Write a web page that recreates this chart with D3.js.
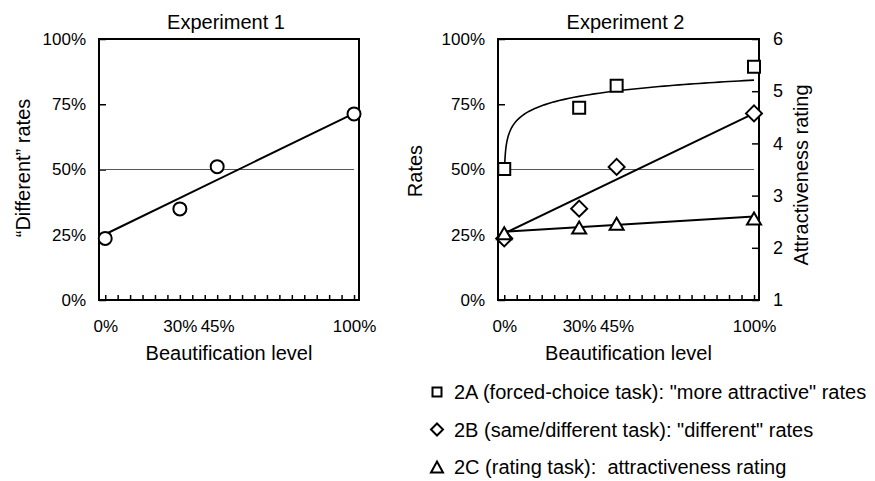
<!DOCTYPE html>
<html>
<head>
<meta charset="utf-8">
<script src="https://cdn.jsdelivr.net/npm/d3@7"></script>
<style>
  body { margin: 0; background: #fff; }
  svg { display: block; font-family: "Liberation Sans", Arial, sans-serif; }
  .tick line { stroke: #000; stroke-width: 1.5; }
  .tick text { fill: #000; }
</style>
</head>
<body>
<svg id="chart" width="875" height="481"></svg>
<script>
// beautification levels (x) shared by both experiments
const levels = [0, 30, 45, 100];
const levelLabels = [0, 30, 45, 100];

// Experiment 1: "different" rates (%)
const exp1Different = [23.6, 34.9, 51.1, 71.3];
const exp1Fit = [25.2, 71.5];            // trend line at x = 0 and x = 100

// Experiment 2
const exp2Attractive = [50.2, 73.7, 82.1, 89.4];  // 2A rates (%)
const exp2Different = [23.6, 35.0, 51.0, 71.5];   // 2B rates (%)
const exp2Rating = [2.28, 2.39, 2.46, 2.56];      // 2C rating (1-6)
const exp2DiffFit = [25.5, 71.5];
const exp2RatingFit = [2.31, 2.60];
const exp2AttrLogFit = [60.4, 5.18];     // y = a + b*ln(x)

const rateTicks = [0, 25, 50, 75, 100];
const ratingTicks = [1, 2, 3, 4, 5, 6];
const minorTicks = d3.range(0, 101, 5);

const legendItems = [
  { shape: "square", text: '2A (forced-choice task): "more attractive" rates' },
  { shape: "diamond", text: '2B (same/different task): "different" rates' },
  { shape: "triangle", text: '2C (rating task):  attractiveness rating' }
];

const svg = d3.select("#chart");
const plotTop = 39, plotBottom = 300;

// marker shapes
function shapePath(shape) {
  if (shape === "circle") return d3.symbol(d3.symbolCircle, Math.PI * 6.5 * 6.5)();
  if (shape === "square") return "M-6,-6H6V6H-6Z";
  if (shape === "diamond") return "M0,-8L8,0L0,8L-8,0Z";
  return "M0,-6L7,6H-7Z";
}

function drawMarkers(g, x, y, values, shape) {
  g.selectAll(null)
    .data(values)
    .enter().append("path")
    .attr("d", shapePath(shape))
    .attr("transform", (d, i) => "translate(" + x(levels[i]) + "," + y(d) + ")")
    .attr("fill", "#fff")
    .attr("stroke", "#000")
    .attr("stroke-width", 2);
}

function drawPanel(left, right, title) {
  const g = svg.append("g");
  const x = d3.scaleLinear().domain([-2.5, 102]).range([left, right]);
  const y = d3.scaleLinear().domain([0, 100]).range([plotBottom, plotTop]);

  // minor ticks along bottom
  g.append("g")
    .attr("transform", "translate(0," + plotBottom + ")")
    .call(d3.axisBottom(x).tickValues(minorTicks).tickSizeInner(-5).tickSizeOuter(0).tickFormat(""))
    .call(a => a.select(".domain").remove());

  // labelled x ticks
  g.append("g")
    .attr("transform", "translate(0," + plotBottom + ")")
    .call(d3.axisBottom(x).tickValues(levelLabels).tickSize(0).tickPadding(20).tickFormat(d => d + "%"))
    .call(a => a.select(".domain").remove())
    .selectAll("text").style("font-size", "17px");

  // y axis
  g.append("g")
    .attr("transform", "translate(" + left + ",0)")
    .call(d3.axisLeft(y).tickValues(rateTicks).tickSizeInner(-7).tickSizeOuter(0).tickPadding(13).tickFormat(d => d + "%"))
    .call(a => a.select(".domain").remove())
    .selectAll("text").style("font-size", "17px");

  // 50% reference line
  g.append("line")
    .attr("x1", left).attr("x2", x(100))
    .attr("y1", y(50)).attr("y2", y(50))
    .attr("stroke", "#555").attr("stroke-width", 1);

  // frame
  g.append("rect")
    .attr("x", left).attr("y", plotTop)
    .attr("width", right - left).attr("height", plotBottom - plotTop)
    .attr("fill", "none").attr("stroke", "#000").attr("stroke-width", 2);

  g.append("text")
    .attr("x", (left + right) / 2 - 3).attr("y", 29)
    .attr("text-anchor", "middle").style("font-size", "20px")
    .text(title);

  g.append("text")
    .attr("x", (left + right) / 2).attr("y", 360)
    .attr("text-anchor", "middle").style("font-size", "20px")
    .text("Beautification level");

  return { g, x, y };
}

// ---- Experiment 1
const p1 = drawPanel(99, 359, "Experiment 1");
p1.g.append("text")
  .attr("transform", "translate(23,168) rotate(-90)")
  .attr("text-anchor", "middle").attr("dominant-baseline", "central")
  .style("font-size", "20px")
  .text("\u201CDifferent\u201D rates");

p1.g.append("line")
  .attr("x1", p1.x(0)).attr("y1", p1.y(exp1Fit[0]))
  .attr("x2", p1.x(100)).attr("y2", p1.y(exp1Fit[1]))
  .attr("stroke", "#000").attr("stroke-width", 2);
drawMarkers(p1.g, p1.x, p1.y, exp1Different, "circle");

// ---- Experiment 2
const p2 = drawPanel(498, 759, "Experiment 2");
p2.g.append("text")
  .attr("transform", "translate(415,171) rotate(-90)")
  .attr("text-anchor", "middle").attr("dominant-baseline", "central")
  .style("font-size", "20px")
  .text("Rates");

const yR = d3.scaleLinear().domain([1, 6]).range([plotBottom, plotTop]);
p2.g.append("g")
  .attr("transform", "translate(759,0)")
  .call(d3.axisRight(yR).tickValues(ratingTicks).tickSizeInner(-7).tickSizeOuter(0).tickPadding(14).tickFormat(d3.format("d")))
  .call(a => a.select(".domain").remove())
  .selectAll("text").style("font-size", "18px");

p2.g.append("text")
  .attr("transform", "translate(801,175) rotate(-90)")
  .attr("text-anchor", "middle").attr("dominant-baseline", "central")
  .style("font-size", "20px")
  .text("Attractiveness rating");

// 2A log trend
const x0 = Math.exp((exp2Attractive[0] - exp2AttrLogFit[0]) / exp2AttrLogFit[1]);
const curveX = [x0].concat(d3.range(0.2, 2, 0.1), d3.range(2, 10, 0.5), d3.range(10, 101, 2));
p2.g.append("path")
  .datum(curveX)
  .attr("d", d3.line()
    .x(d => p2.x(d))
    .y(d => p2.y(exp2AttrLogFit[0] + exp2AttrLogFit[1] * Math.log(d))))
  .attr("fill", "none").attr("stroke", "#000").attr("stroke-width", 1.6);

p2.g.append("line")
  .attr("x1", p2.x(0)).attr("y1", p2.y(exp2DiffFit[0]))
  .attr("x2", p2.x(100)).attr("y2", p2.y(exp2DiffFit[1]))
  .attr("stroke", "#000").attr("stroke-width", 2);
p2.g.append("line")
  .attr("x1", p2.x(0)).attr("y1", yR(exp2RatingFit[0]))
  .attr("x2", p2.x(100)).attr("y2", yR(exp2RatingFit[1]))
  .attr("stroke", "#000").attr("stroke-width", 2);

drawMarkers(p2.g, p2.x, p2.y, exp2Attractive, "square");
drawMarkers(p2.g, p2.x, p2.y, exp2Different, "diamond");
drawMarkers(p2.g, p2.x, yR, exp2Rating, "triangle");

// ---- legend
const legendY = d3.scalePoint().domain(legendItems.map(d => d.text)).range([392, 467]);
const lg = svg.append("g").selectAll("g")
  .data(legendItems)
  .enter().append("g")
  .attr("transform", d => "translate(437," + legendY(d.text) + ")");
lg.append("path")
  .attr("d", d => d.shape === "square" ? "M-4.5,-4.5H4.5V4.5H-4.5Z"
    : d.shape === "diamond" ? "M0,-6L6,0L0,6L-6,0Z" : "M0,-5.5L6,5.5H-6Z")
  .attr("fill", "#fff").attr("stroke", "#000").attr("stroke-width", 2);
lg.append("text")
  .attr("x", 17).attr("y", 0)
  .attr("dominant-baseline", "central")
  .style("font-size", "20px")
  .style("white-space", "pre")
  .text(d => d.text);
</script>
</body>
</html>
